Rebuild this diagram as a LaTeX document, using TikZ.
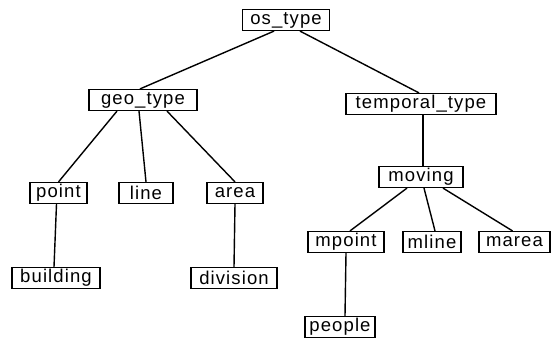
\documentclass[tikz,border=0pt]{standalone}
\usepackage{fontspec}
\setmainfont{Liberation Sans}[LetterSpace=6]
\tikzset{
  typebox/.style={draw, line width=1.2pt, rectangle, inner sep=0pt,
    minimum height=21pt, font=\fontsize{18.5}{18.5}\selectfont},
  link/.style={line width=1.4pt}
}
\begin{document}
\begin{tikzpicture}[x=1pt,y=-1pt]
\useasboundingbox (0,0) rectangle (559,340);

% ---------- root ----------
\node[typebox, minimum width=87] (os) at (286,20) {os\_type};

% ---------- geo side ----------
\node[typebox, minimum width=108] (geo) at (143,100) {geo\_type};
\node[typebox, minimum width=57] (point) at (58.5,193) {point};
\node[typebox, minimum width=54] (line) at (146,193) {line};
\node[typebox, minimum width=56] (area) at (235,193) {area};
\node[typebox, minimum width=88] (building) at (56,278) {building};
\node[typebox, minimum width=86] (division) at (234,278) {division};

% ---------- temporal side ----------
\node[typebox, minimum width=150] (temporal) at (421,104) {temporal\_type};
\node[typebox, minimum width=84] (moving) at (421,177) {moving};
\node[typebox, minimum width=76] (mpoint) at (346,242) {mpoint};
\node[typebox, minimum width=58] (mline) at (432,242) {mline};
\node[typebox, minimum width=71] (marea) at (514.5,242) {marea};
\node[typebox, minimum width=70] (people) at (340,327) {people};

% ---------- links ----------
\draw[link] ([xshift=-12pt]os.south) -- ([xshift=-3pt]geo.north);
\draw[link] ([xshift=14pt]os.south) -- ([xshift=-2pt]temporal.north);
\draw[link] ([xshift=-26pt]geo.south) -- (point.north);
\draw[link] ([xshift=-4pt]geo.south) -- (line.north);
\draw[link] ([xshift=24pt]geo.south) -- (area.north);
\draw[link] ([xshift=-2pt]point.south) -- ([xshift=-2pt]building.north);
\draw[link] (area.south) -- (division.north);
\draw[link] ([xshift=2pt]temporal.south) -- ([xshift=2pt]moving.north);
\draw[link] ([xshift=-14pt]moving.south) -- ([xshift=4pt]mpoint.north);
\draw[link] ([xshift=3pt]moving.south) -- ([xshift=3pt]mline.north);
\draw[link] ([xshift=22pt]moving.south) -- ([xshift=-2pt]marea.north);
\draw[link] (mpoint.south) -- ([xshift=5pt]people.north);

\end{tikzpicture}
\end{document}
